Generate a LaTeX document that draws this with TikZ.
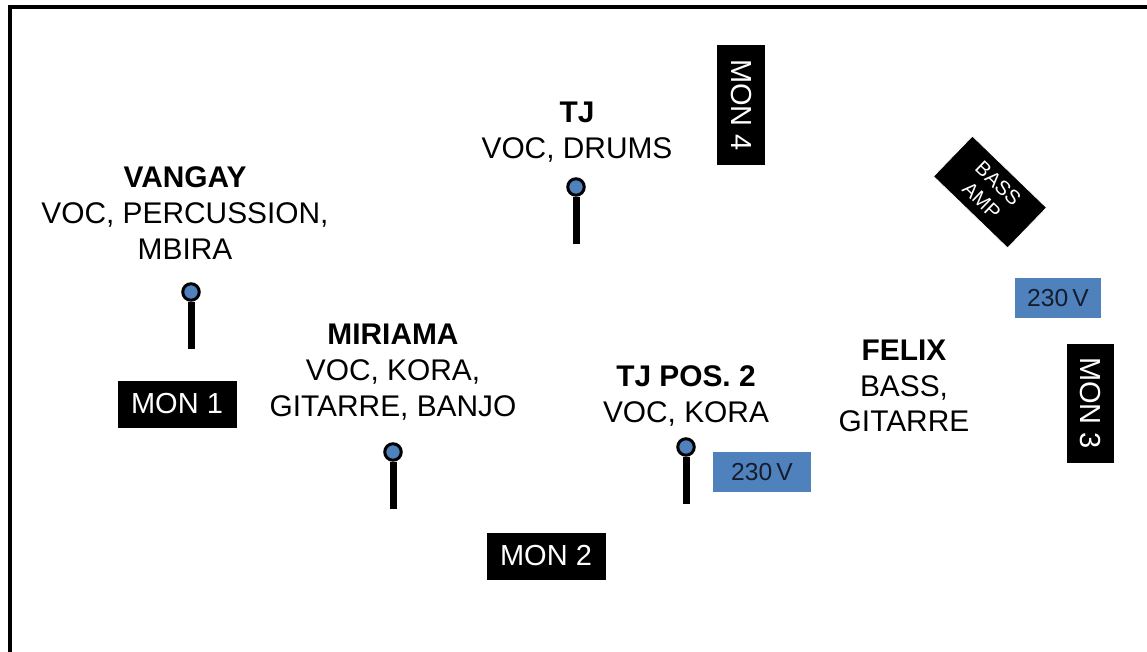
\documentclass[tikz,border=0pt]{standalone}
\usepackage{fontspec}
\setmainfont{Liberation Sans}
\usepackage{xcolor}
\usepackage{tikz}
\usetikzlibrary{positioning}
\definecolor{micblue}{RGB}{79,129,189}
\definecolor{plugblue}{RGB}{79,129,189}
\definecolor{plugtext}{RGB}{20,28,45}

\begin{document}
\begin{tikzpicture}[x=0.02cm, y=-0.02cm,
		player/.style={align=center, font=\fontsize{17}{20.4}\selectfont},
		monitor/.style={draw=white, fill=black, text=white, inner sep=0pt, font=\fontsize{16.5}{18}\selectfont},
		plug/.style={fill=plugblue, text=plugtext, inner sep=0pt, font=\fontsize{14}{16}\selectfont},
		mic/.style={circle, draw=black, fill=micblue, line width=1.7pt, inner sep=0pt, minimum size=0.33cm},
		stand/.style={line width=0.14cm}]
				\useasboundingbox (0,0) rectangle (1147,652);
				\clip (0,0) rectangle (1147,652);
				\draw[line width=2.3pt] (10,7) rectangle (1170,680);
				
				% musicians
				\node[player] (vangay) at (185,213) {\textbf{VANGAY}\\VOC, PERCUSSION,\\MBIRA};
				\node[player] (miriama) at (393,372) {\textbf{MIRIAMA}\\VOC, KORA,\\GITARRE, BANJO};
				\node[player] (tj) at (577,132) {\textbf{TJ}\\VOC, DRUMS};
				\node[player] (tjpos) at (686,396) {\textbf{TJ POS. 2}\\VOC, KORA};
				\node[player] (felix) at (904,386) {\textbf{FELIX}\\BASS,\\GITARRE};
				
				% mics
				\node[mic] (mic1) at (191,292) {};
				\node[mic] (mic2) at (393,452) {};
				\node[mic] (mic3) at (576,187) {};
				\node[mic] (mic4) at (686,447) {};
				\coordinate (foot1) at (191,349);
				\coordinate (foot2) at (393,509);
				\coordinate (foot3) at (576,244);
				\coordinate (foot4) at (686,504);
				\draw[stand] (foot1) -- (mic1);
				\draw[stand] (foot2) -- (mic2);
				\draw[stand] (foot3) -- (mic3);
				\draw[stand] (foot4) -- (mic4);
				
				% monitors
				\node[monitor, minimum width=2.4cm, minimum height=0.96cm] (mon1) at (177,404) {MON 1};
				\node[monitor, minimum width=2.4cm, minimum height=0.96cm] (mon2) at (546,556) {MON 2};
				\node[monitor, rotate=-90, minimum width=2.4cm, minimum height=0.96cm] (mon3) at (1090,403) {MON 3};
				\node[monitor, rotate=-90, minimum width=2.42cm, minimum height=0.98cm] (mon4) at (741,105) {MON 4};
				\node[monitor, rotate=-44, minimum width=2.06cm, minimum height=1.12cm, align=center,
					font=\fontsize{11.5}{13.5}\selectfont] (amp) at (990,192) {BASS\\AMP};
				
				% power
				\node[plug, minimum width=1.98cm, minimum height=0.82cm] (power1) at (762,472) {230\,V};
				\node[plug, minimum width=1.72cm, minimum height=0.8cm] (power2) at (1058,298) {230\,V};
			\end{tikzpicture}
\end{document}
